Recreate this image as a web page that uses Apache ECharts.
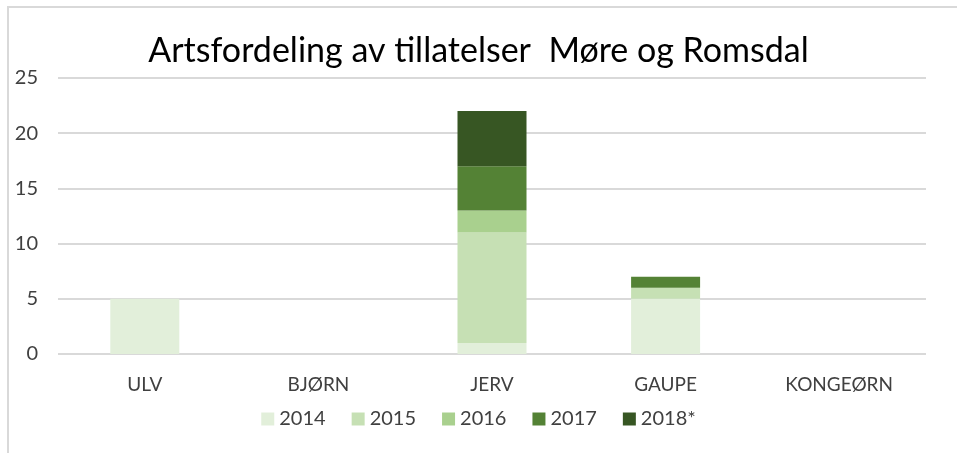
<!DOCTYPE html>
<html><head><meta charset="utf-8">
<script src="https://cdn.jsdelivr.net/npm/echarts@6/dist/echarts.min.js"></script>
<style>html,body{margin:0;padding:0;background:#fff}#c{width:957px;height:453px}</style>
</head><body><div id="c"></div>
<script>
const categories = ['ULV', 'BJØRN', 'JERV', 'GAUPE', 'KONGEØRN'];
const seriesNames = ['2014', '2015', '2016', '2017', '2018*'];
const v2014 = [5, 0, 1, 5, 0];
const v2015 = [0, 0, 10, 1, 0];
const v2016 = [0, 0, 2, 0, 0];
const v2017 = [0, 0, 4, 1, 0];
const v2018 = [0, 0, 5, 0, 0];
const yTicks = [0, 5, 10, 15, 20, 25];

const values = [v2014, v2015, v2016, v2017, v2018];
const colors = ['#e2efda', '#c6e0b4', '#a9d08e', '#548235', '#375623'];
const font = 'Lato, "Open Sans", sans-serif';

const chart = echarts.init(document.getElementById('c'));
chart.setOption({
  animation: false,
  title: {
    text: 'Artsfordeling av tillatelser  Møre og Romsdal',
    left: 'center', top: 29,
    textStyle: { fontFamily: font, fontSize: 34, fontWeight: 'normal', color: '#000' }
  },
  legend: {
    bottom: 19, left: 'center',
    itemWidth: 13, itemHeight: 13, itemGap: 26,
    icon: 'rect',
    textStyle: { fontFamily: font, fontSize: 20, color: '#404040' },
    data: seriesNames
  },
  grid: { left: 58, right: 31, top: 78, bottom: 99, containLabel: false },
  xAxis: {
    type: 'category', data: categories,
    axisLine: { show: false }, axisTick: { show: false },
    axisLabel: { fontFamily: font, fontSize: 19, color: '#404040', margin: 21 }
  },
  yAxis: {
    type: 'value', min: yTicks[0], max: yTicks[yTicks.length - 1], interval: 5,
    axisLine: { show: false }, axisTick: { show: false },
    axisLabel: { fontFamily: font, fontSize: 20, color: '#404040', margin: 20 },
    splitLine: { lineStyle: { color: '#d9d9d9', width: 2 } }
  },
  graphic: [
    { type: 'line', shape: { x1: 8, y1: 7, x2: 8, y2: 453 }, style: { stroke: '#d9d9d9', lineWidth: 2 } },
    { type: 'line', shape: { x1: 7, y1: 7, x2: 957, y2: 7 }, style: { stroke: '#d9d9d9', lineWidth: 2 } }
  ],
  series: seriesNames.map((n, i) => ({
    name: n, type: 'bar', stack: 'a', barWidth: 69,
    itemStyle: { color: colors[i] },
    data: values[i]
  }))
});
</script></body></html>
